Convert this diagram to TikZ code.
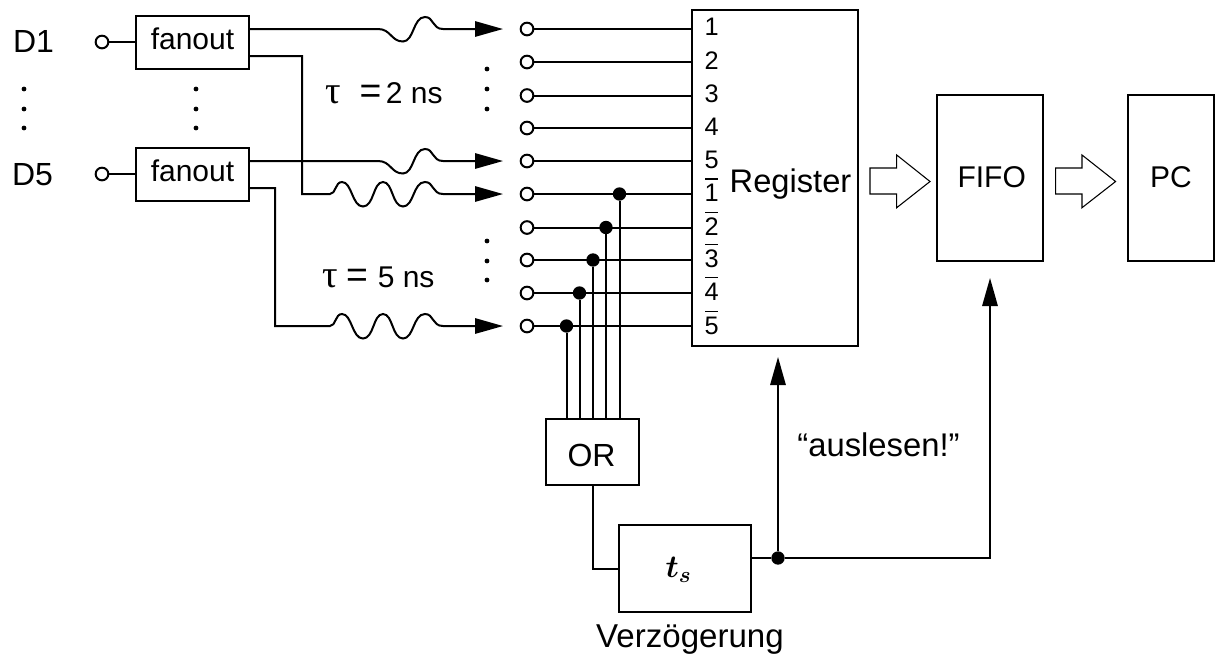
\documentclass[tikz,border=0pt]{standalone}
\usepackage{fix-cm}
\usepackage{fontspec}
\setmainfont{Liberation Sans}
\newfontfamily\taufont{Liberation Serif}
\usetikzlibrary{arrows.meta,calc}
\newcommand{\fs}[1]{\fontsize{#1}{#1}\selectfont}
\newcommand{\wigS}[1]{-- (378,#1) .. controls (391,#1) and (391,{#1+12.5}) .. (403,{#1+12.5}) .. controls (414,{#1+12.5}) and (413,{#1-12}) .. (425,{#1-12}) .. controls (434,{#1-12}) and (432,#1) .. (443,#1)}
\newcommand{\wigL}[1]{-- (330,#1) .. controls (336,#1) and (335,{#1-12}) .. (342,{#1-12}) .. controls (352,{#1-12}) and (352,{#1+12.5}) .. (363,{#1+12.5}) .. controls (374,{#1+12.5}) and (373,{#1-12}) .. (383,{#1-12}) .. controls (393,{#1-12}) and (392,{#1+12.5}) .. (403,{#1+12.5}) .. controls (414,{#1+12.5}) and (413,{#1-12}) .. (425,{#1-12}) .. controls (434,{#1-12}) and (432,#1) .. (443,#1)}
\tikzset{
  x=0.75pt,y=-0.75pt,
  wire/.style={line width=1.5pt,line join=miter},
  arr/.style={wire,-{Triangle[length=21pt,width=11.5pt]}},
  box/.style={draw,line width=1.5pt,inner sep=0pt,outer sep=0pt,font=\fs{#1}},
  port/.style={circle,draw,line width=1.5pt,fill=white,inner sep=0pt,outer sep=0pt,minimum size=9.5pt},
  jdot/.style={circle,fill=black,inner sep=0pt,outer sep=0pt,minimum size=10pt},
  vdot/.style={circle,fill=black,inner sep=0pt,outer sep=0pt,minimum size=3.6pt},
  txt/.style={anchor=base,inner sep=0pt,outer sep=0pt,font=\fs{#1}},
  hollow/.style={draw,line width=0.8pt,fill=white,line join=miter},
}
\begin{document}
\begin{tikzpicture}
\useasboundingbox (0,0) rectangle (1220,658);
% boxes
\node[box=22.5,minimum width=84.75pt,minimum height=39.75pt,text height=10.5pt,text depth=0pt] (f1) at (192.5,42.5) {fanout};
\node[box=22.5,minimum width=84.75pt,minimum height=39.75pt,text height=10.5pt,text depth=0pt] (f5) at (192.5,174.5) {fanout};
\node[box=18,minimum width=124.5pt,minimum height=252pt] (reg) at (775,178) {};
\node[box=22.5,minimum width=79.5pt,minimum height=124pt,text height=14.6pt,text depth=0pt] (fifo) at (989.7,178) {\hspace{3pt}FIFO};
\node[box=22.5,minimum width=64.5pt,minimum height=124pt,text height=14.6pt,text depth=0pt] (pc) at (1171,178) {PC};
\node[box=24,minimum width=69.75pt,minimum height=49.5pt,text height=21pt,text depth=0pt] (or) at (592.5,452.2) {\hspace{-1.5pt}OR};
\node[box=24,minimum width=99.4pt,minimum height=65.25pt,text height=14pt,text depth=0pt] (ts) at (685.2,568.5) {\hspace{-10pt}{\boldmath$t_s$}};
% input ports
\node[port] (i1) at (102,42) {};
\node[port] (i5) at (102,174) {};
\draw[wire] (i1) -- (f1.west |- i1);
\draw[wire] (i5) -- (f5.west |- i5);
% output ports and register lines
\foreach \n/\y in {1/29,2/62,3/95.5,4/128,5/161,6/194,7/227.5,8/260,9/293,10/326}{
  \node[port] (p\n) at (527,\y) {};
  \draw[wire] (p\n) -- (reg.west |- p\n);
}
% arrow end points
\coordinate (a1) at (503,29);
\coordinate (a5) at (503,161);
\coordinate (a6) at (503,194);
\coordinate (a10) at (503,326);
\draw[arr] (f1.east |- a1) \wigS{29} -- (a1);
\draw[arr] (f5.east |- a5) \wigS{161} -- (a5);
\draw[arr] (249,56) -- (302,56) -- (302,194) \wigL{194} -- (a6);
\draw[arr] (249,188) -- (275,188) -- (275,326) \wigL{326} -- (a10);
% junctions and OR inputs
\foreach \n/\x in {10/566.5,9/579.5,8/593,7/606,6/619.5}{
  \node[jdot] (j\n) at (\x,0 |- p\n) {};
  \draw[wire] (j\n) -- (j\n |- or.north);
}
% OR to delay
\draw[wire] (or.south) |- (ts.west);
\node[jdot] (jt) at (778,558) {};
\draw[wire] (ts.east |- jt) -- (jt);
\coordinate (u1) at (778,357);
\coordinate (u2) at (990,278);
\draw[arr] (jt) -- (u1);
\draw[arr] (jt) -| (u2);
% hollow arrows
\draw[hollow] (870,168) -- (896.7,168) -- (896.7,155) -- (930,181.5) -- (896.7,207.7) -- (896.7,194) -- (870,194) -- cycle;
\draw[hollow] (1055.7,168) -- (1082,168) -- (1082,155) -- (1115.6,181.5) -- (1082,207.7) -- (1082,194) -- (1055.7,194) -- cycle;
% ellipsis dots
\foreach \x/\a/\b/\c in {24/89/109/128,196/89/109/128,487/69/89/109,487/241/261/280}{
  \node[vdot] (d\x\a) at (\x,\a) {};
  \node[vdot] (d\x\b) at (\x,\b) {};
  \node[vdot] (d\x\c) at (\x,\c) {};
}
% texts
\node[txt=24] (t1) at (33.5,52) {D1};
\node[txt=24] (t5) at (32.5,185) {D5};
\node[txt=22.5] (tau2) at (384,103) {{\taufont\fs{29}τ}\hspace{14pt}{\fs{28}=}\hspace{3.5pt}2 ns};
\node[txt=22.5] (tau5) at (378.5,287) {{\taufont\fs{29}τ}\hspace{6pt}{\fs{28}=}\hspace{7.5pt}5 ns};
\foreach \n/\t/\y in {1/1/35.7,2/2/69,3/3/102,4/4/135,5/5/168}{
  \node[txt=19] (n\n) at (711.7,\y) {\t};
}
\foreach \n/\t/\y in {6/1/201.7,7/2/235,8/3/267,9/4/300,10/5/334}{
  \node[txt=19] (n\n) at (711.7,\y) {\t};
  \draw[line width=1pt] ($(n\n.base)+(-6.5,-22.7)$) -- ($(n\n.base)+(6.5,-22.7)$);
}
\node[txt=24.5] (regl) at (790.5,192) {Register};
\node[txt=24.6] (ausl) at (878.5,456.7) {“auslesen!”};
\node[txt=24.8] (verz) at (690,647.7) {Verzögerung};
\end{tikzpicture}
\end{document}
